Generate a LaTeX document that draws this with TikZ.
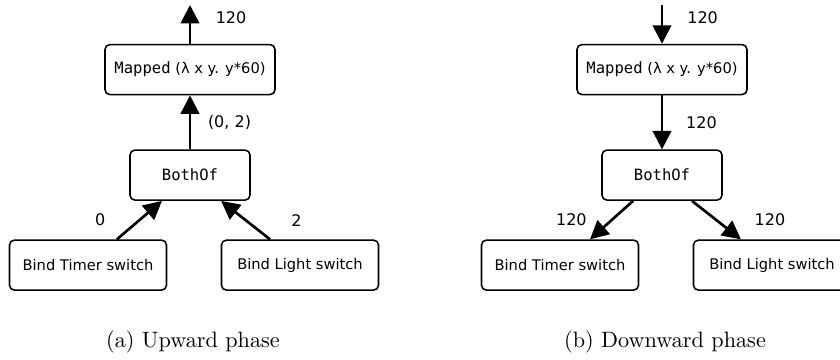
\documentclass[tikz,border=0pt]{standalone}
\usepackage{fontspec}
\newfontfamily\dvsans{DejaVu Sans}
\newfontfamily\dvmono{DejaVu Sans Mono}
\newcommand{\mono}[1]{{\dvmono\fontsize{7}{8}\selectfont #1}}
\usetikzlibrary{arrows.meta}
\tikzset{
    block/.style = {draw, rectangle, rounded corners=2.2pt, line width=0.7pt,
        minimum height=22.5pt, align=center,
        font=\dvsans\fontsize{6.6}{8}\selectfont},
    flow/.style = {draw, ->, line width=1.2pt},
    lbl/.style = {inner sep=1pt, font=\dvsans\fontsize{7.2}{8}\selectfont},
    capt/.style = {font=\fontsize{10}{12}\selectfont}
}

\begin{document}
\begin{tikzpicture}[>={Triangle[length=8.3pt,width=8.3pt]}, node distance=47.5pt]
    \useasboundingbox (0,0) rectangle (378pt,-161.55pt);
    % (a) upward phase
    \node [block, minimum width=76.5pt] (map1) at (85.5pt,-31.3pt) {\mono{Mapped} (λ x y. y*60)};
    \node [block, minimum width=54pt, below of=map1] (both1) {\mono{BothOf}};
    \node [block, minimum width=70.65pt, below of=both1, node distance=40.5pt, xshift=-45.9pt] (timer1) {Bind Timer switch};
    \node [block, minimum width=70.65pt, below of=both1, node distance=40.5pt, xshift=49.5pt] (light1) {Bind Light switch};
    \coordinate (out1) at (85.5pt,-2.25pt);
    \draw [flow] (map1) -- node [lbl, pos=0.67, right=10pt] {120} (out1);
    \draw [flow] (both1) -- node [lbl, right=6.5pt] {(0, 2)} (map1);
    \draw [flow] ([xshift=13pt]timer1.north) -- node [lbl, left=13.8pt] {0} ([xshift=-12.6pt]both1.south);
    \draw [flow] ([xshift=-13.5pt]light1.north) -- node [lbl, right=19pt] {2} ([xshift=14pt]both1.south);
    \node [capt] (capa) at (86.85pt,-153.9pt) {(a) Upward phase};
    % (b) downward phase
    \node [block, minimum width=76.5pt] (map2) at (297.9pt,-31.3pt) {\mono{Mapped} (λ x y. y*60)};
    \node [block, minimum width=54pt, below of=map2] (both2) {\mono{BothOf}};
    \node [block, minimum width=70.65pt, below of=both2, node distance=40.5pt, xshift=-45.9pt] (timer2) {Bind Timer switch};
    \node [block, minimum width=70.65pt, below of=both2, node distance=40.5pt, xshift=49.5pt] (light2) {Bind Light switch};
    \coordinate (in2) at (297.9pt,-2.25pt);
    \draw [flow] (in2) -- node [lbl, pos=0.33, right=9.8pt] {120} (map2);
    \draw [flow] (map2) -- node [lbl, right=9.3pt] {120} (both2);
    \draw [flow] ([xshift=-13pt]both2.south) -- node [lbl, left=9.6pt] {120} ([xshift=13.5pt]timer2.north);
    \draw [flow] ([xshift=13.5pt]both2.south) -- node [lbl, right=15.6pt] {120} ([xshift=-14pt]light2.north);
    \node [capt] (capb) at (299.25pt,-153.9pt) {(b) Downward phase};
\end{tikzpicture}
\end{document}
